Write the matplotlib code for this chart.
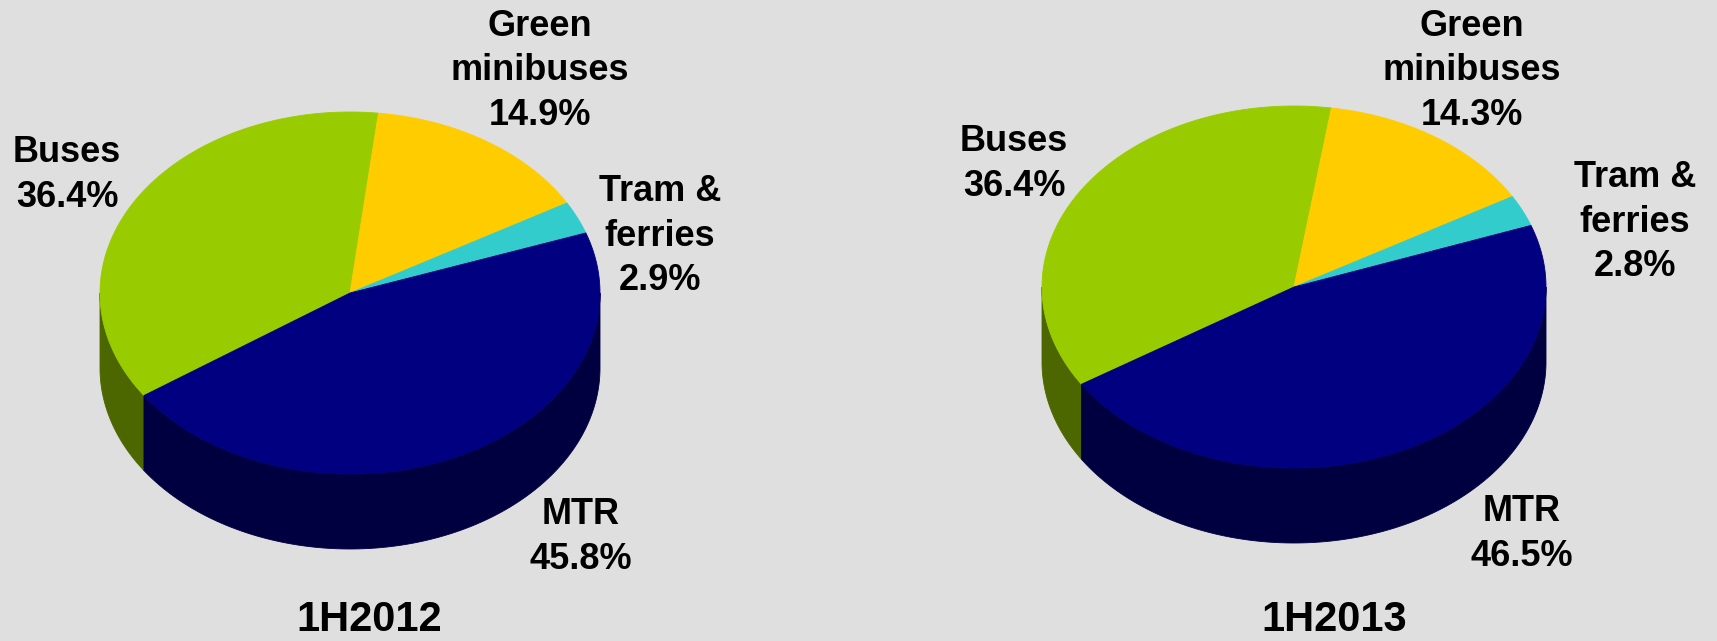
# plot.py
# ----------------------------------------------------
# Public transport passenger share, 1H2012 vs 1H2013 (3D pies)
# ----------------------------------------------------

import numpy as np
import matplotlib
matplotlib.use("Agg")
import matplotlib.pyplot as plt

# ----------------------------------------------------
# 1. Data
# ----------------------------------------------------
modes = ["Buses", "Green\nminibuses", "Tram &\nferries", "MTR"]
share_2012 = [36.4, 14.9, 2.9, 45.8]
share_2013 = [36.4, 14.3, 2.8, 46.5]
periods = ["1H2012", "1H2013"]

top_colors = ["#99cc00", "#ffcc00", "#33cccc", "#000080"]
side_colors = ["#4c6600", "#806600", "#1a6666", "#000040"]

W, H = 1717, 641
plt.rcParams["font.family"] = ["Liberation Sans", "DejaVu Sans"]

fig = plt.figure(figsize=(W / 100, H / 100), dpi=100)
fig.patch.set_facecolor("#dfdfdf")
ax = fig.add_axes([0, 0, 1, 1])
ax.set_xlim(0, W)
ax.set_ylim(H, 0)
ax.axis("off")


# ----------------------------------------------------
# 2. Helper: flat ellipse pie with a visible front rim
# ----------------------------------------------------
def arc(cx, cy, a, b, t0, t1, n=200):
    t = np.radians(np.linspace(t0, t1, n))
    return cx + a * np.cos(t), cy - b * np.sin(t)


def pie3d(values, cx, cy, a, b, depth, start):
    vals = np.asarray(values, dtype=float)
    bounds = start - 360 * np.concatenate([[0], np.cumsum(vals) / vals.sum()])

    # rim first (only the front half, 180..360 deg, is visible)
    for i in range(len(vals)):
        t_hi, t_lo = bounds[i], bounds[i + 1]
        for k in (-360, 0, 360):
            lo = max(t_lo, 180 + k)
            hi = min(t_hi, 360 + k)
            if lo < hi:
                x, y = arc(cx, cy, a, b, lo, hi)
                xs = np.concatenate([x, x[::-1]])
                ys = np.concatenate([y, y[::-1] + depth])
                ax.fill(xs, ys, color=side_colors[i], lw=0.6)

    # top faces
    for i in range(len(vals)):
        x, y = arc(cx, cy, a, b, bounds[i], bounds[i + 1])
        ax.fill(np.r_[cx, x], np.r_[cy, y], color=top_colors[i], lw=0.6)


# ----------------------------------------------------
# 3. Draw both pies
# ----------------------------------------------------
pie3d(share_2012, 350, 293, 250, 181, 75, 214.5)
pie3d(share_2013, 1294, 287, 252, 181, 75, 212.5)

label_pos_2012 = [(67, 175), (540, 71), (660, 236), (581, 537)]
label_pos_2013 = [(1014, 164), (1472, 71), (1635, 222), (1522, 534)]

for shares, pos in [(share_2012, label_pos_2012), (share_2013, label_pos_2013)]:
    for name, val, (x, y) in zip(modes, shares, pos):
        ax.text(x, y, f"{name}\n{val:.1f}%", ha="center", va="center",
                multialignment="center", fontsize=26, fontweight="bold",
                linespacing=1.35)

for title, x in zip(periods, [369, 1334]):
    ax.text(x, 620, title, ha="center", va="center", fontsize=30,
            fontweight="bold")

fig.savefig("out.png", dpi=100, facecolor=fig.get_facecolor())
